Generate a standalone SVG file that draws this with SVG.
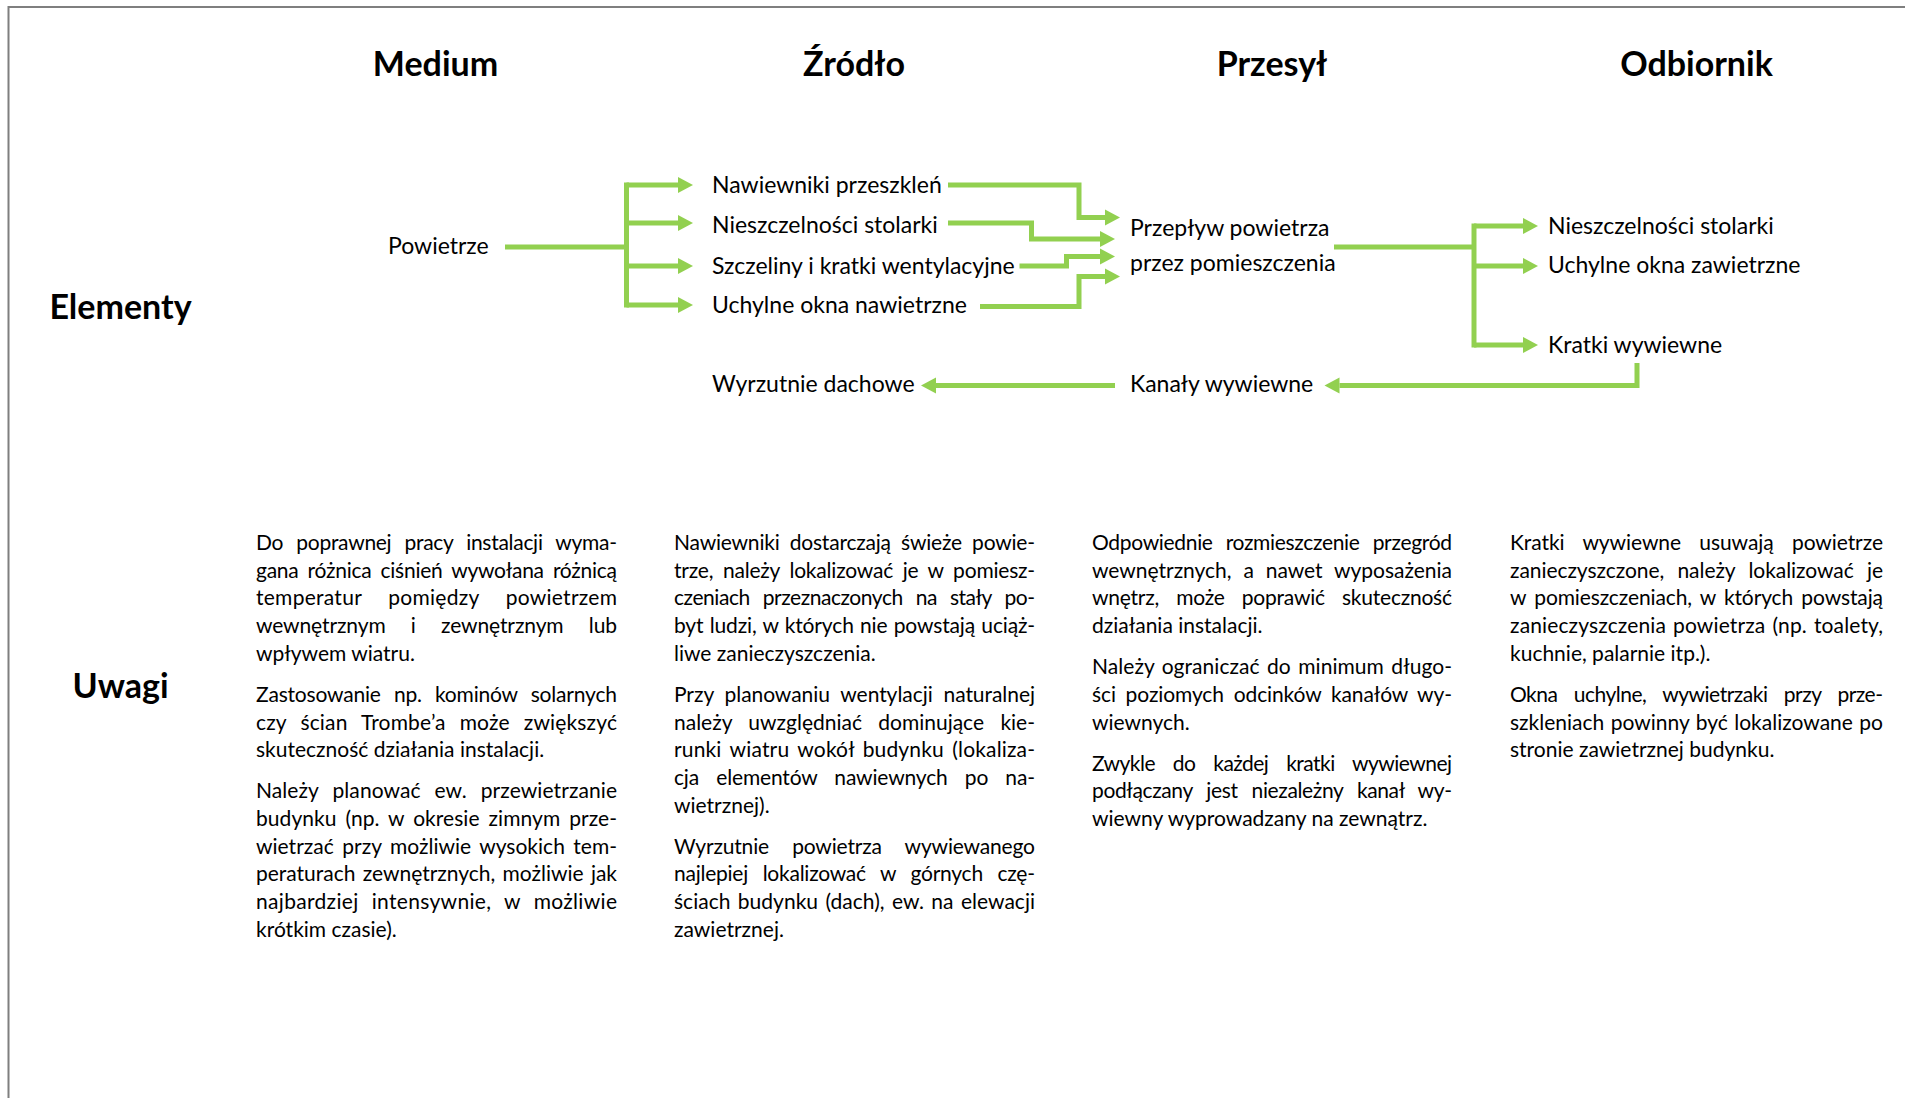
<svg xmlns="http://www.w3.org/2000/svg" width="1905" height="1098" viewBox="0 0 1905 1098">
<style>
.t{font-family:Lato,'Noto Sans',sans-serif;fill:#000}
.h{font-size:34px;font-weight:700;text-anchor:middle}
.l{font-size:23px}
.p{font-size:21px}
.c{fill:none;stroke:#92D050;stroke-width:5;stroke-linejoin:miter}
.a{marker-end:url(#ah)}
.tr{stroke-linecap:square}
</style>
<defs>
<marker id="ah" markerUnits="userSpaceOnUse" markerWidth="16" markerHeight="17" refX="0" refY="8" orient="auto" overflow="visible">
<path d="M0,0 L15,8 L0,16 z" fill="#92D050"/>
</marker>
</defs>
<rect width="1905" height="1098" fill="#fff"/>
<path d="M8.5,1098 V7 H1905" fill="none" stroke="#7f7f7f" stroke-width="2"/>

<g id="headers">
<text class="t h" x="435.5" y="76">Medium</text>
<text class="t h" x="854" y="76">Źródło</text>
<text class="t h" x="1272" y="76">Przesył</text>
<text class="t h" x="1696.5" y="76">Odbiornik</text>
<text class="t h" x="120.5" y="319">Elementy</text>
<text class="t h" x="120.5" y="698">Uwagi</text>
</g>

<g id="connectors">
<path class="c" d="M505,247 H626.5"/>
<path class="c tr" d="M626.5,185 V305"/>
<path class="c a" d="M626.5,185 H678"/>
<path class="c a" d="M626.5,223 H678"/>
<path class="c a" d="M626.5,266 H678"/>
<path class="c a" d="M626.5,305 H678"/>
<path class="c a" d="M948,185 H1079 V217.5 H1105"/>
<path class="c a" d="M948,223 H1031.5 V239 H1100"/>
<path class="c a" d="M1019.5,266 H1066.5 V256.5 H1100"/>
<path class="c a" d="M980,306.5 H1079 V276.5 H1105"/>
<path class="c" d="M1334,247 H1474"/>
<path class="c tr" d="M1474,226 V345"/>
<path class="c a" d="M1474,226 H1523"/>
<path class="c a" d="M1474,266 H1523"/>
<path class="c a" d="M1474,345 H1523"/>
<path class="c a" d="M1637,363 V385.5 H1339.5"/>
<path class="c a" d="M1115,385.5 H936"/>
</g>

<g id="n-powietrze"><text class="t l" x="388" y="254">Powietrze</text></g>
<g id="n-nawiewniki"><text class="t l" x="712" y="192.5">Nawiewniki przeszkleń</text></g>
<g id="n-nieszczelnosci-1"><text class="t l" x="712" y="232.5">Nieszczelności stolarki</text></g>
<g id="n-szczeliny"><text class="t l" x="712" y="273.5">Szczeliny i kratki wentylacyjne</text></g>
<g id="n-uchylne-naw"><text class="t l" x="712" y="312.5">Uchylne okna nawietrzne</text></g>
<g id="n-wyrzutnie"><text class="t l" x="712" y="392">Wyrzutnie dachowe</text></g>
<g id="n-przeplyw"><text class="t l" x="1130" y="235.5">Przepływ powietrza</text><text class="t l" x="1130" y="271">przez pomieszczenia</text></g>
<g id="n-kanaly"><text class="t l" x="1130" y="392">Kanały wywiewne</text></g>
<g id="n-nieszczelnosci-2"><text class="t l" x="1548" y="233.5">Nieszczelności stolarki</text></g>
<g id="n-uchylne-zaw"><text class="t l" x="1548" y="273">Uchylne okna zawietrzne</text></g>
<g id="n-kratki"><text class="t l" x="1548" y="353">Kratki wywiewne</text></g>

<g id="uwagi-medium" class="t p">
<text x="256" y="550" textLength="361" lengthAdjust="spacing" style="word-spacing:8px">Do poprawnej pracy instalacji wyma-</text>
<text x="256" y="577.7" textLength="361" lengthAdjust="spacing" style="word-spacing:4px">gana różnica ciśnień wywołana różnicą</text>
<text x="256" y="605.4" textLength="361" lengthAdjust="spacing" style="word-spacing:21px">temperatur pomiędzy powietrzem</text>
<text x="256" y="633.1" textLength="361" lengthAdjust="spacing" style="word-spacing:20px">wewnętrznym i zewnętrznym lub</text>
<text x="256" y="660.8">wpływem wiatru.</text>
<text x="256" y="701.8" textLength="361" lengthAdjust="spacing" style="word-spacing:8px">Zastosowanie np. kominów solarnych</text>
<text x="256" y="729.5" textLength="361" lengthAdjust="spacing" style="word-spacing:8.5px">czy ścian Trombe’a może zwiększyć</text>
<text x="256" y="757.2">skuteczność działania instalacji.</text>
<text x="256" y="798.2" textLength="361" lengthAdjust="spacing" style="word-spacing:8.5px">Należy planować ew. przewietrzanie</text>
<text x="256" y="825.9" textLength="361" lengthAdjust="spacing" style="word-spacing:3.5px">budynku (np. w okresie zimnym prze-</text>
<text x="256" y="853.6" textLength="361" lengthAdjust="spacing" style="word-spacing:3px">wietrzać przy możliwie wysokich tem-</text>
<text x="256" y="881.3" textLength="361" lengthAdjust="spacing" style="word-spacing:2px">peraturach zewnętrznych, możliwie jak</text>
<text x="256" y="909" textLength="361" lengthAdjust="spacing" style="word-spacing:7.5px">najbardziej intensywnie, w możliwie</text>
<text x="256" y="936.7">krótkim czasie).</text>
</g>

<g id="uwagi-zrodlo" class="t p">
<text x="674" y="550" textLength="361" lengthAdjust="spacing" style="word-spacing:5px">Nawiewniki dostarczają świeże powie-</text>
<text x="674" y="577.7" textLength="361" lengthAdjust="spacing" style="word-spacing:4.5px">trze, należy lokalizować je w pomiesz-</text>
<text x="674" y="605.4" textLength="361" lengthAdjust="spacing" style="word-spacing:8px">czeniach przeznaczonych na stały po-</text>
<text x="674" y="633.1" textLength="361" lengthAdjust="spacing" style="word-spacing:1px">byt ludzi, w których nie powstają uciąż-</text>
<text x="674" y="660.8">liwe zanieczyszczenia.</text>
<text x="674" y="701.8" textLength="361" lengthAdjust="spacing" style="word-spacing:5.5px">Przy planowaniu wentylacji naturalnej</text>
<text x="674" y="729.5" textLength="361" lengthAdjust="spacing" style="word-spacing:11px">należy uwzględniać dominujące kie-</text>
<text x="674" y="757.2" textLength="361" lengthAdjust="spacing" style="word-spacing:3px">runki wiatru wokół budynku (lokaliza-</text>
<text x="674" y="784.9" textLength="361" lengthAdjust="spacing" style="word-spacing:12px">cja elementów nawiewnych po na-</text>
<text x="674" y="812.6">wietrznej).</text>
<text x="674" y="853.6" textLength="361" lengthAdjust="spacing" style="word-spacing:18px">Wyrzutnie powietrza wywiewanego</text>
<text x="674" y="881.3" textLength="361" lengthAdjust="spacing" style="word-spacing:9.5px">najlepiej lokalizować w górnych czę-</text>
<text x="674" y="909" textLength="361" lengthAdjust="spacing" style="word-spacing:2px">ściach budynku (dach), ew. na elewacji</text>
<text x="674" y="936.7">zawietrznej.</text>
</g>

<g id="uwagi-przesyl" class="t p">
<text x="1092" y="550" textLength="360" lengthAdjust="spacing" style="word-spacing:8px">Odpowiednie rozmieszczenie przegród</text>
<text x="1092" y="577.7" textLength="360" lengthAdjust="spacing" style="word-spacing:6.5px">wewnętrznych, a nawet wyposażenia</text>
<text x="1092" y="605.4" textLength="360" lengthAdjust="spacing" style="word-spacing:12px">wnętrz, może poprawić skuteczność</text>
<text x="1092" y="633.1">działania instalacji.</text>
<text x="1092" y="674.1" textLength="360" lengthAdjust="spacing" style="word-spacing:2px">Należy ograniczać do minimum długo-</text>
<text x="1092" y="701.8" textLength="360" lengthAdjust="spacing" style="word-spacing:4.5px">ści poziomych odcinków kanałów wy-</text>
<text x="1092" y="729.5">wiewnych.</text>
<text x="1092" y="770.5" textLength="360" lengthAdjust="spacing" style="word-spacing:13px">Zwykle do każdej kratki wywiewnej</text>
<text x="1092" y="798.2" textLength="360" lengthAdjust="spacing" style="word-spacing:9px">podłączany jest niezależny kanał wy-</text>
<text x="1092" y="825.9">wiewny wyprowadzany na zewnątrz.</text>
</g>

<g id="uwagi-odbiornik" class="t p">
<text x="1510" y="550" textLength="373" lengthAdjust="spacing" style="word-spacing:13px">Kratki wywiewne usuwają powietrze</text>
<text x="1510" y="577.7" textLength="373" lengthAdjust="spacing" style="word-spacing:8px">zanieczyszczone, należy lokalizować je</text>
<text x="1510" y="605.4" textLength="373" lengthAdjust="spacing" style="word-spacing:3px">w pomieszczeniach, w których powstają</text>
<text x="1510" y="633.1" textLength="373" lengthAdjust="spacing" style="word-spacing:1.5px">zanieczyszczenia powietrza (np. toalety,</text>
<text x="1510" y="660.8">kuchnie, palarnie itp.).</text>
<text x="1510" y="701.8" textLength="373" lengthAdjust="spacing" style="word-spacing:11.5px">Okna uchylne, wywietrzaki przy prze-</text>
<text x="1510" y="729.5" textLength="373" lengthAdjust="spacing" style="word-spacing:1px">szkleniach powinny być lokalizowane po</text>
<text x="1510" y="757.2">stronie zawietrznej budynku.</text>
</g>
</svg>
